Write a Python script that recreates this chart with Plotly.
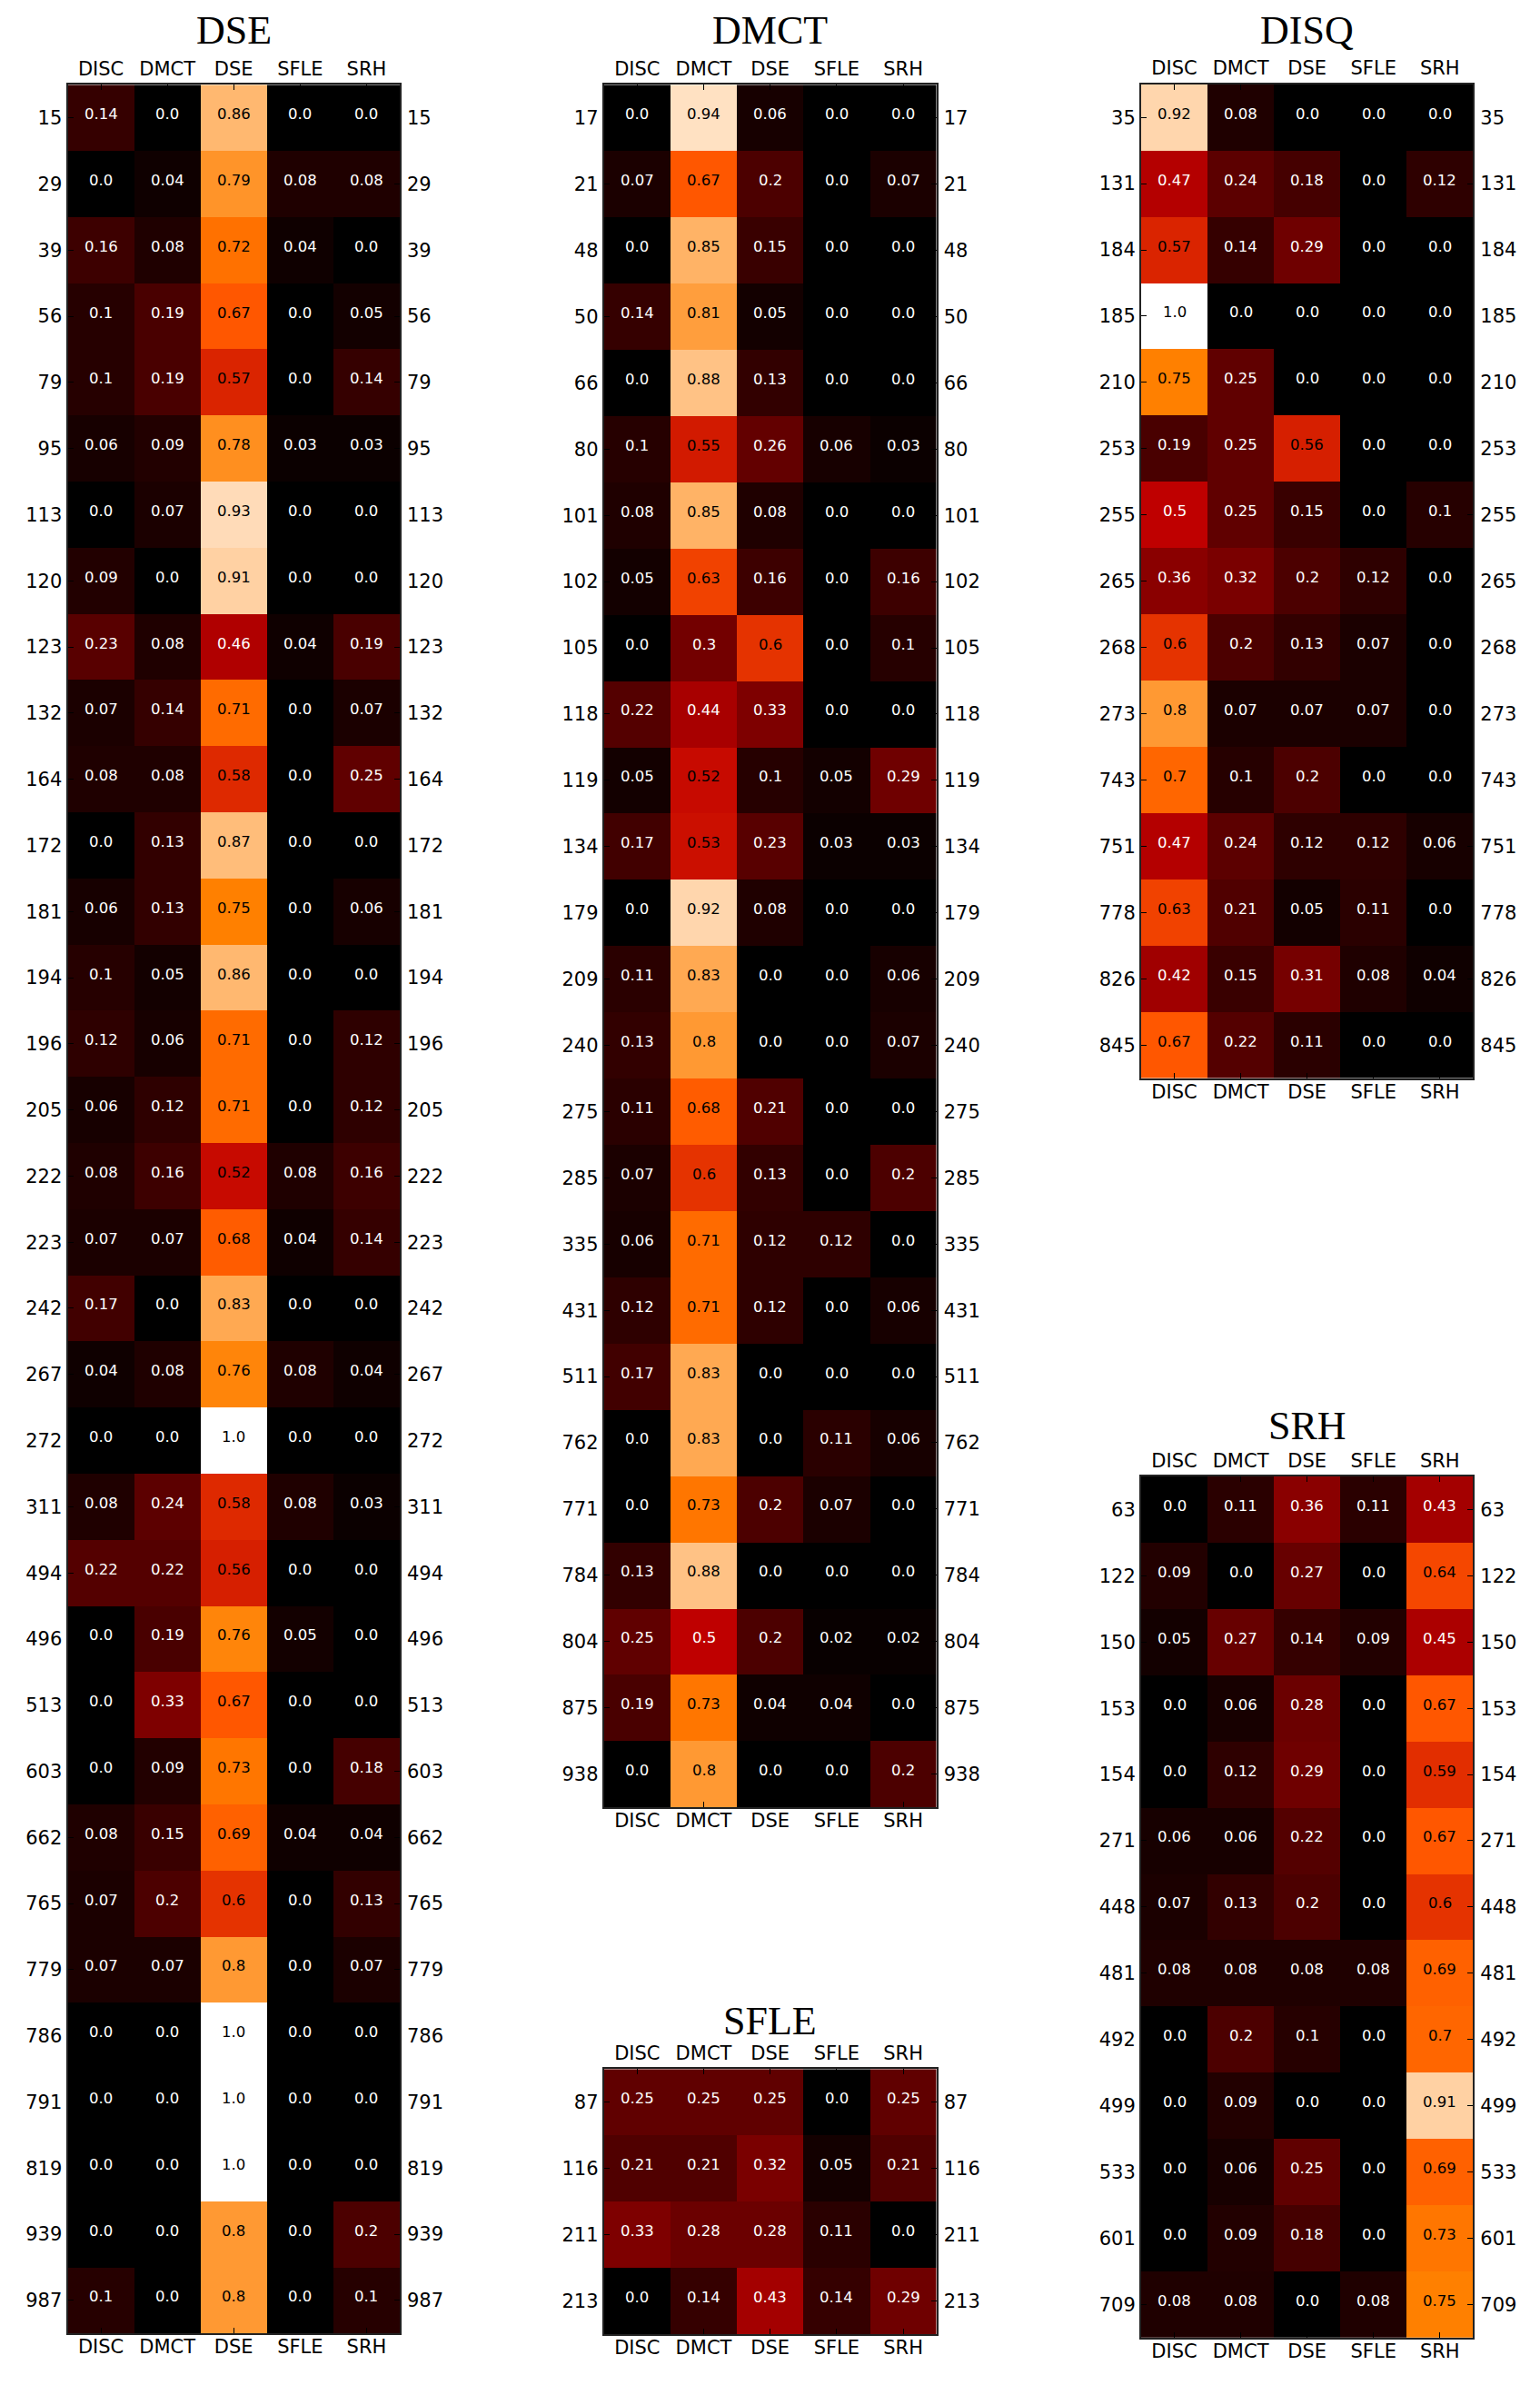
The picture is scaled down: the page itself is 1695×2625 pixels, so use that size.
import plotly.graph_objects as go

W, H = 1695, 2625
PAD = 8  # the page body margin, so the figure is drawn at (8, 8)
FW, FH = W - 2 * PAD, H - 2 * PAD
cols = ["DISC", "DMCT", "DSE", "SFLE", "SRH"]

# ---- data: one row per sample, columns follow `cols`
dse_rows = [15, 29, 39, 56, 79, 95, 113, 120, 123, 132, 164, 172, 181, 194, 196, 205, 222,
            223, 242, 267, 272, 311, 494, 496, 513, 603, 662, 765, 779, 786, 791, 819, 939, 987]
dse_vals = [
    [0.14, 0.0, 0.86, 0.0, 0.0],
    [0.0, 0.04, 0.79, 0.08, 0.08],
    [0.16, 0.08, 0.72, 0.04, 0.0],
    [0.1, 0.19, 0.67, 0.0, 0.05],
    [0.1, 0.19, 0.57, 0.0, 0.14],
    [0.06, 0.09, 0.78, 0.03, 0.03],
    [0.0, 0.07, 0.93, 0.0, 0.0],
    [0.09, 0.0, 0.91, 0.0, 0.0],
    [0.23, 0.08, 0.46, 0.04, 0.19],
    [0.07, 0.14, 0.71, 0.0, 0.07],
    [0.08, 0.08, 0.58, 0.0, 0.25],
    [0.0, 0.13, 0.87, 0.0, 0.0],
    [0.06, 0.13, 0.75, 0.0, 0.06],
    [0.1, 0.05, 0.86, 0.0, 0.0],
    [0.12, 0.06, 0.71, 0.0, 0.12],
    [0.06, 0.12, 0.71, 0.0, 0.12],
    [0.08, 0.16, 0.52, 0.08, 0.16],
    [0.07, 0.07, 0.68, 0.04, 0.14],
    [0.17, 0.0, 0.83, 0.0, 0.0],
    [0.04, 0.08, 0.76, 0.08, 0.04],
    [0.0, 0.0, 1.0, 0.0, 0.0],
    [0.08, 0.24, 0.58, 0.08, 0.03],
    [0.22, 0.22, 0.56, 0.0, 0.0],
    [0.0, 0.19, 0.76, 0.05, 0.0],
    [0.0, 0.33, 0.67, 0.0, 0.0],
    [0.0, 0.09, 0.73, 0.0, 0.18],
    [0.08, 0.15, 0.69, 0.04, 0.04],
    [0.07, 0.2, 0.6, 0.0, 0.13],
    [0.07, 0.07, 0.8, 0.0, 0.07],
    [0.0, 0.0, 1.0, 0.0, 0.0],
    [0.0, 0.0, 1.0, 0.0, 0.0],
    [0.0, 0.0, 1.0, 0.0, 0.0],
    [0.0, 0.0, 0.8, 0.0, 0.2],
    [0.1, 0.0, 0.8, 0.0, 0.1],
]

dmct_rows = [17, 21, 48, 50, 66, 80, 101, 102, 105, 118, 119, 134, 179, 209, 240, 275, 285,
             335, 431, 511, 762, 771, 784, 804, 875, 938]
dmct_vals = [
    [0.0, 0.94, 0.06, 0.0, 0.0],
    [0.07, 0.67, 0.2, 0.0, 0.07],
    [0.0, 0.85, 0.15, 0.0, 0.0],
    [0.14, 0.81, 0.05, 0.0, 0.0],
    [0.0, 0.88, 0.13, 0.0, 0.0],
    [0.1, 0.55, 0.26, 0.06, 0.03],
    [0.08, 0.85, 0.08, 0.0, 0.0],
    [0.05, 0.63, 0.16, 0.0, 0.16],
    [0.0, 0.3, 0.6, 0.0, 0.1],
    [0.22, 0.44, 0.33, 0.0, 0.0],
    [0.05, 0.52, 0.1, 0.05, 0.29],
    [0.17, 0.53, 0.23, 0.03, 0.03],
    [0.0, 0.92, 0.08, 0.0, 0.0],
    [0.11, 0.83, 0.0, 0.0, 0.06],
    [0.13, 0.8, 0.0, 0.0, 0.07],
    [0.11, 0.68, 0.21, 0.0, 0.0],
    [0.07, 0.6, 0.13, 0.0, 0.2],
    [0.06, 0.71, 0.12, 0.12, 0.0],
    [0.12, 0.71, 0.12, 0.0, 0.06],
    [0.17, 0.83, 0.0, 0.0, 0.0],
    [0.0, 0.83, 0.0, 0.11, 0.06],
    [0.0, 0.73, 0.2, 0.07, 0.0],
    [0.13, 0.88, 0.0, 0.0, 0.0],
    [0.25, 0.5, 0.2, 0.02, 0.02],
    [0.19, 0.73, 0.04, 0.04, 0.0],
    [0.0, 0.8, 0.0, 0.0, 0.2],
]

disq_rows = [35, 131, 184, 185, 210, 253, 255, 265, 268, 273, 743, 751, 778, 826, 845]
disq_vals = [
    [0.92, 0.08, 0.0, 0.0, 0.0],
    [0.47, 0.24, 0.18, 0.0, 0.12],
    [0.57, 0.14, 0.29, 0.0, 0.0],
    [1.0, 0.0, 0.0, 0.0, 0.0],
    [0.75, 0.25, 0.0, 0.0, 0.0],
    [0.19, 0.25, 0.56, 0.0, 0.0],
    [0.5, 0.25, 0.15, 0.0, 0.1],
    [0.36, 0.32, 0.2, 0.12, 0.0],
    [0.6, 0.2, 0.13, 0.07, 0.0],
    [0.8, 0.07, 0.07, 0.07, 0.0],
    [0.7, 0.1, 0.2, 0.0, 0.0],
    [0.47, 0.24, 0.12, 0.12, 0.06],
    [0.63, 0.21, 0.05, 0.11, 0.0],
    [0.42, 0.15, 0.31, 0.08, 0.04],
    [0.67, 0.22, 0.11, 0.0, 0.0],
]

srh_rows = [63, 122, 150, 153, 154, 271, 448, 481, 492, 499, 533, 601, 709]
srh_vals = [
    [0.0, 0.11, 0.36, 0.11, 0.43],
    [0.09, 0.0, 0.27, 0.0, 0.64],
    [0.05, 0.27, 0.14, 0.09, 0.45],
    [0.0, 0.06, 0.28, 0.0, 0.67],
    [0.0, 0.12, 0.29, 0.0, 0.59],
    [0.06, 0.06, 0.22, 0.0, 0.67],
    [0.07, 0.13, 0.2, 0.0, 0.6],
    [0.08, 0.08, 0.08, 0.08, 0.69],
    [0.0, 0.2, 0.1, 0.0, 0.7],
    [0.0, 0.09, 0.0, 0.0, 0.91],
    [0.0, 0.06, 0.25, 0.0, 0.69],
    [0.0, 0.09, 0.18, 0.0, 0.73],
    [0.08, 0.08, 0.0, 0.08, 0.75],
]

sfle_rows = [87, 116, 211, 213]
sfle_vals = [
    [0.25, 0.25, 0.25, 0.0, 0.25],
    [0.21, 0.21, 0.32, 0.05, 0.21],
    [0.33, 0.28, 0.28, 0.11, 0.0],
    [0.0, 0.14, 0.43, 0.14, 0.29],
]

# matplotlib gist_heat as plotly stops
gist_heat = [
    [0.0, "rgb(0,0,0)"],
    [0.5, "rgb(191,0,0)"],
    [2 / 3, "rgb(255,85,0)"],
    [0.75, "rgb(255,128,0)"],
    [1.0, "rgb(255,255,255)"],
]

# (title, rows, values, left, right, top, bottom, title centre) in page pixels
panels = [
    ("DSE", dse_rows, dse_vals, 74.5, 440, 93.3, 2568.3, 34),
    ("DMCT", dmct_rows, dmct_vals, 664.7, 1030.7, 93.3, 1989, 34),
    ("DISQ", disq_rows, disq_vals, 1256, 1621.3, 92.7, 1186.7, 34),
    ("SRH", srh_rows, srh_vals, 1256, 1621.3, 1625, 2572.7, 1569),
    ("SFLE", sfle_rows, sfle_vals, 664.7, 1030.7, 2277.3, 2569.3, 2224),
]


def px_x(v):
    return (v - PAD) / FW


def px_y(v):
    return 1 - (v - PAD) / FH


tick_font = dict(family="DejaVu Sans", size=21, color="black")

fig = go.Figure()
layout = {}
annotations = []

for i, (name, rows, vals, x0, x1, y0, y1, ty) in enumerate(panels):
    a, b = 2 * i + 1, 2 * i + 2
    xa, ya = f"x{a}", f"y{a}"
    xb, yb = f"x{b}", f"y{b}"
    labels = [str(r) for r in rows]
    n = len(rows)

    fig.add_trace(go.Heatmap(
        z=vals, x=cols, y=labels, colorscale=gist_heat, zmin=0, zmax=1,
        showscale=False, xaxis=xa, yaxis=ya, hoverinfo="skip"))

    # invisible trace so the mirrored (bottom / right) axes get their labels
    fig.add_trace(go.Scatter(
        x=[cols[0]] * n, y=labels, mode="markers", marker=dict(opacity=0),
        xaxis=xb, yaxis=yb, showlegend=False, hoverinfo="skip"))

    # cell values (category index positions), dark text on the bright cells
    for k, row in enumerate(vals):
        for j, v in enumerate(row):
            annotations.append(dict(
                x=j, y=k, xref=xa, yref=ya, text=str(v), showarrow=False,
                yshift=4, font=dict(family="DejaVu Sans", size=16.5,
                                    color="black" if v > 0.5 else "white")))

    xdom = [px_x(x0), px_x(x1)]
    ydom = [px_y(y1), px_y(y0)]

    layout[f"xaxis{a}"] = dict(
        domain=xdom, anchor=ya, side="top", type="category", categoryarray=cols,
        range=[-0.5, 4.5], ticks="inside", ticklen=6, tickcolor="black",
        showline=True, linecolor="#222", linewidth=2, mirror="ticks",
        showgrid=False, zeroline=False, tickfont=tick_font, fixedrange=True)
    layout[f"yaxis{a}"] = dict(
        domain=ydom, anchor=xa, side="left", type="category", categoryarray=labels,
        range=[n - 0.5, -0.5], ticks="inside", ticklen=6, tickcolor="black",
        showline=True, linecolor="#222", linewidth=2, mirror="ticks",
        showgrid=False, zeroline=False, tickfont=tick_font, fixedrange=True)
    layout[f"xaxis{b}"] = dict(
        overlaying=xa, anchor=yb, side="bottom", type="category", categoryarray=cols,
        range=[-0.5, 4.5], ticks="", showline=False, showgrid=False,
        zeroline=False, tickfont=tick_font, fixedrange=True)
    layout[f"yaxis{b}"] = dict(
        overlaying=ya, anchor=xb, side="right", type="category", categoryarray=labels,
        range=[n - 0.5, -0.5], ticks="", showline=False, showgrid=False,
        zeroline=False, tickfont=tick_font, fixedrange=True, ticklabelstandoff=7)

    annotations.append(dict(
        text=name, xref="paper", yref="paper", x=px_x((x0 + x1) / 2), y=px_y(ty),
        xanchor="center", yanchor="middle", showarrow=False,
        font=dict(family="Liberation Serif", size=44, color="black")))

fig.update_layout(
    width=FW, height=FH, margin=dict(l=0, r=0, t=0, b=0),
    paper_bgcolor="white", plot_bgcolor="white", showlegend=False,
    annotations=annotations, **layout)

fig.write_html("out.html")
